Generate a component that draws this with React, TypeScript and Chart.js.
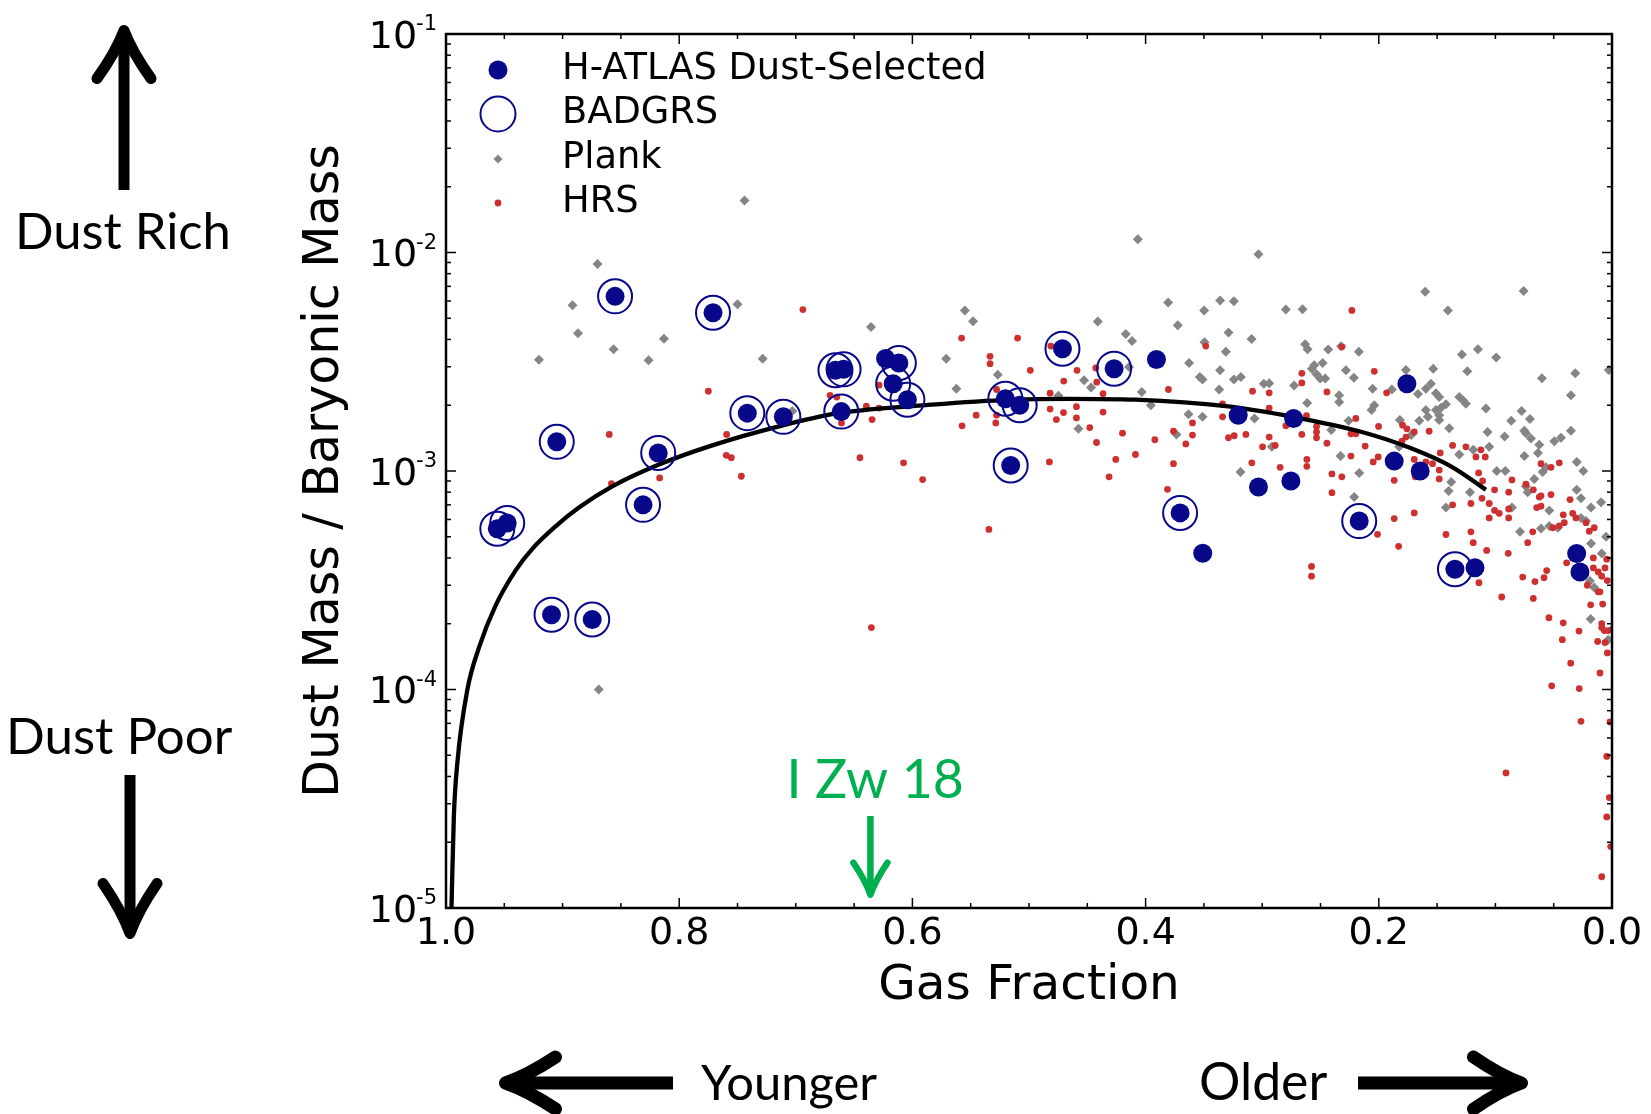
import React, { useEffect, useRef } from 'react';
import { Chart, registerables } from 'chart.js';

Chart.register(...registerables);

// ---------------- DATA ----------------
const hatlasX = [0.956, 0.9475, 0.905, 0.9095, 0.8746, 0.855, 0.831, 0.818, 0.771, 0.7416, 0.7107, 0.666, 0.659, 0.661, 0.623, 0.6116, 0.6165, 0.6043, 0.5203, 0.508, 0.5157, 0.4713, 0.427, 0.3907, 0.3704, 0.351, 0.3206, 0.2731, 0.3032, 0.2754, 0.1759, 0.1868, 0.1645, 0.2168, 0.1347, 0.1175, 0.0303, 0.0275];
const hatlasY = [5.44e-4, 5.78e-4, 1.36e-3, 2.2e-4, 2.09e-4, 6.3e-3, 7.0e-4, 1.21e-3, 5.3e-3, 1.84e-3, 1.77e-3, 2.89e-3, 2.92e-3, 1.87e-3, 3.27e-3, 3.12e-3, 2.51e-3, 2.12e-3, 2.14e-3, 2.0e-3, 1.06e-3, 3.63e-3, 2.94e-3, 3.24e-3, 6.43e-4, 4.2e-4, 1.8e-3, 1.74e-3, 8.45e-4, 9.0e-4, 2.51e-3, 1.11e-3, 1.0e-3, 5.9e-4, 3.55e-4, 3.61e-4, 4.19e-4, 3.45e-4];

const badgrsX = [0.956, 0.9475, 0.905, 0.9095, 0.8746, 0.855, 0.831, 0.818, 0.771, 0.7416, 0.7107, 0.666, 0.659, 0.661, 0.6116, 0.6165, 0.6043, 0.5203, 0.508, 0.5157, 0.4713, 0.427, 0.3704, 0.2168, 0.1347];
const badgrsY = [5.44e-4, 5.78e-4, 1.36e-3, 2.2e-4, 2.09e-4, 6.3e-3, 7.0e-4, 1.21e-3, 5.3e-3, 1.84e-3, 1.77e-3, 2.89e-3, 2.92e-3, 1.87e-3, 3.12e-3, 2.51e-3, 2.12e-3, 2.14e-3, 2.0e-3, 1.06e-3, 3.63e-3, 2.94e-3, 6.43e-4, 5.9e-4, 3.55e-4];

const plankX = [0.744, 0.870, 0.8915, 0.750, 0.8868, 0.8131, 0.8563, 0.9203, 0.8263, 0.7284, 0.703, 0.6355, 0.555, 0.548, 0.571, 0.5268, 0.5623, 0.869,
  0.4067, 0.3807, 0.3361, 0.441, 0.3724, 0.3498, 0.417, 0.4116, 0.3495, 0.4528, 0.4468, 0.4748, 0.4142, 0.4033, 0.3955, 0.3627, 0.3535, 0.3512, 0.3361, 0.3369, 0.4576, 0.3632, 0.3512, 0.3735, 0.3312,
  0.3032, 0.3243, 0.2797, 0.2654, 0.1602, 0.1407, 0.0758, 0.3289, 0.3091, 0.2632, 0.2611, 0.2434, 0.2323, 0.2171, 0.3243, 0.3183, 0.2986, 0.294, 0.2726, 0.2554, 0.2574, 0.2482, 0.2534, 0.2503, 0.246, 0.2282, 0.2214, 0.234, 0.234, 0.2614, 0.3066, 0.2917, 0.3186, 0.2408, 0.2259, 0.2328, 0.2168, 0.2211,
  0.2053, 0.2062, 0.2039, 0.1888, 0.1767, 0.1819, 0.1825, 0.1722, 0.1653, 0.1664, 0.1596, 0.1553, 0.1533, 0.1596, 0.1579, 0.151, 0.1482, 0.1467, 0.1482, 0.1424, 0.1396, 0.151, 0.1482, 0.131, 0.1276, 0.1253, 0.1287, 0.1241, 0.115, 0.0993, 0.1081, 0.1067, 0.0921, 0.0864, 0.0775, 0.0704, 0.0752, 0.0738, 0.0695, 0.0752, 0.0624, 0.0635, 0.0601, 0.0315, 0.0352, 0.0352, 0.0495, 0.0438, 0.0028,
  0.131, 0.119, 0.1053, 0.0989, 0.0915, 0.1379, 0.1401, 0.1218, 0.0858, 0.0789, 0.0738, 0.0723, 0.0667, 0.0595, 0.0566, 0.0538, 0.0609, 0.0538, 0.0466, 0.0303, 0.0266, 0.0246, 0.0302, 0.018, 0.0094, 0.0051, 0.018, 0.0223, 0.0266, 0.1424, 0.0189, 0.0152, 0.0183, 0.0032, 0.0088];
const plankY = [1.73e-2, 8.85e-3, 5.73e-3, 5.79e-3, 4.27e-3, 4.03e-3, 3.61e-3, 3.23e-3, 3.21e-3, 3.26e-3, 1.88e-3, 4.56e-3, 5.42e-3, 4.84e-3, 3.26e-3, 2.76e-3, 2.38e-3, 1.0e-4,
  1.15e-2, 5.91e-3, 6.03e-3, 4.83e-3, 4.65e-3, 5.43e-3, 4.24e-3, 3.94e-3, 3.88e-3, 2.6e-3, 2.41e-3, 2.21e-3, 2.99e-3, 2.3e-3, 2.0e-3, 3.12e-3, 2.69e-3, 2.62e-3, 2.89e-3, 2.36e-3, 1.56e-3, 1.82e-3, 1.77e-3, 1.47e-3, 3.51e-3,
  9.82e-3, 5.98e-3, 5.48e-3, 5.5e-3, 6.62e-3, 5.42e-3, 6.67e-3, 4.3e-3, 4.02e-3, 3.8e-3, 3.61e-3, 3.6e-3, 3.72e-3, 3.51e-3, 2.62e-3, 2.69e-3, 2.51e-3, 2.52e-3, 2.46e-3, 3.05e-3, 2.94e-3, 3.12e-3, 2.77e-3, 2.65e-3, 2.65e-3, 2.89e-3, 2.67e-3, 2.22e-3, 2.07e-3, 2.05e-3, 1.74e-3, 1.29e-3, 9.9e-4, 1.54e-3, 1.7e-3, 1.17e-3, 9.8e-4, 7.6e-4,
  2.38e-3, 1.9e-3, 2.0e-3, 2.36e-3, 2.9e-3, 1.71e-3, 1.29e-3, 1.46e-3, 1.7e-3, 2.25e-3, 2.38e-3, 2.51e-3, 2.94e-3, 1.9e-3, 1.77e-3, 1.9e-3, 1.8e-3, 1.95e-3, 1.71e-3, 2.02e-3, 1.57e-3, 2.27e-3, 2.18e-3, 2.18e-3, 2.1e-3, 2.03e-3, 3.41e-3, 2.86e-3, 3.61e-3, 3.31e-3, 1.93e-3, 1.51e-3, 1.44e-3, 1.7e-3, 1.88e-3, 1.73e-3, 1.53e-3, 1.49e-3, 1.41e-3, 1.17e-3, 1.32e-3, 1.21e-3, 2.66e-3, 2.8e-3, 2.22e-3, 1.53e-3, 1.37e-3, 1.42e-3, 2.9e-3,
  1.19e-3, 1.25e-3, 1.29e-3, 1.0e-3, 1.0e-3, 8.9e-4, 8.1e-4, 8.0e-4, 6.8e-4, 5.27e-4, 8.5e-4, 8.0e-4, 9.2e-4, 9.9e-4, 1.04e-3, 6.6e-4, 5.45e-4, 5.6e-4, 5.5e-4, 8.2e-4, 7.5e-4, 1.0e-3, 1.1e-3, 6.8e-4, 7.2e-4, 5.0e-4, 4.66e-4, 5.9e-4, 6.1e-4, 6.8e-4, 3.14e-4, 2.93e-4, 2.1e-4, 1.69e-4, 4.19e-4];

const hrsX = [0.6939, 0.775, 0.860, 0.7593, 0.7596, 0.7553, 0.7467, 0.8581, 0.8168, 0.5578, 0.5098, 0.5334, 0.5334, 0.4989, 0.5278, 0.6706, 0.6648, 0.6286, 0.6395, 0.6286, 0.6608, 0.6346, 0.5574, 0.5453, 0.5285, 0.5278, 0.645, 0.6076, 0.5912, 0.6352, 0.5344,
  0.4813, 0.4588, 0.4427, 0.4702, 0.4419, 0.4365, 0.4819, 0.3804, 0.3484, 0.4819, 0.4704, 0.4765, 0.4593, 0.4593, 0.4479, 0.4365, 0.4421, 0.4198, 0.3921, 0.3761, 0.3598, 0.3655, 0.3598, 0.4256, 0.4087, 0.4313, 0.3761, 0.3812, 0.4825, 0.334, 0.334,
  0.2231, 0.2317, 0.266, 0.266, 0.2039, 0.2445, 0.1933, 0.3083, 0.294, 0.294, 0.262, 0.2797, 0.2534, 0.2534, 0.2534, 0.266, 0.2445, 0.2197, 0.2239, 0.2197, 0.2002, 0.2117, 0.2239, 0.2005, 0.2048, 0.2402, 0.2317, 0.2402, 0.2617, 0.2617, 0.2846, 0.3089, 0.3289, 0.324, 0.314, 0.2997, 0.294, 0.2889,
  0.1796, 0.1759, 0.1696, 0.1767, 0.1802, 0.1568, 0.1473, 0.1696, 0.1596, 0.1539, 0.1482, 0.1482, 0.1688, 0.1868, 0.1696, 0.1868, 0.2011, 0.183, 0.1424, 0.1367, 0.1253, 0.1167, 0.1124, 0.1087, 0.1144, 0.111, 0.1367, 0.121, 0.121, 0.119, 0.1115, 0.1053, 0.1053, 0.1007, 0.0967, 0.0886, 0.0886, 0.0858, 0.0886, 0.1007,
  0.0738, 0.0675, 0.0624, 0.0609, 0.0646, 0.0609, 0.0523, 0.036, 0.0418, 0.0337, 0.0309, 0.0609, 0.0452, 0.0523, 0.0509, 0.0452, 0.0409, 0.0223, 0.0152, 0.0195, 0.068, 0.0723,
  0.2577, 0.2577, 0.1141, 0.1075, 0.089, 0.0946, 0.0766, 0.0661, 0.0675, 0.0583, 0.056, 0.0541, 0.0418, 0.0426, 0.0283, 0.0354, 0.0517, 0.0281, 0.0266, 0.0909, 0.0088, 0.0045, 0.0023, 0.0045, 0.0011, 0.0103, 0.0017, 0.004, 0.0123, 0.006, 0.0088, 0.0066, 0.0032, 0.0088, 0.0183, 0.008, 0.016, 0.016, 0.0118, 0.0118, 0.0045, 0.006, 0.004, 0.0103, 0.0088, 0.0212, 0.0389, 0.0003];
const hrsY = [5.48e-3, 2.32e-3, 1.47e-3, 1.47e-3, 1.18e-3, 1.15e-3, 9.46e-4, 8.75e-4, 9.3e-4, 4.06e-3, 4.06e-3, 3.35e-3, 3.1e-3, 2.89e-3, 2.36e-3, 2.22e-3, 2.18e-3, 2.47e-3, 1.98e-3, 1.94e-3, 1.66e-3, 1.72e-3, 1.61e-3, 1.8e-3, 1.66e-3, 1.8e-3, 1.15e-3, 1.09e-3, 9.14e-4, 1.92e-4, 5.4e-4,
  3.73e-3, 2.89e-3, 2.96e-3, 2.58e-3, 2.55e-3, 2.26e-3, 2.27e-3, 2.36e-3, 3.73e-3, 1.92e-3, 1.85e-3, 1.72e-3, 1.97e-3, 1.75e-3, 1.58e-3, 1.86e-3, 1.35e-3, 1.49e-3, 1.39e-3, 1.52e-3, 1.46e-3, 1.33e-3, 1.66e-3, 1.13e-3, 1.19e-3, 9.4e-4, 1.08e-3, 8.24e-4, 1.1e-3, 2.03e-3, 1.77e-3,
  5.43e-3, 3.7e-3, 2.8e-3, 2.53e-3, 2.86e-3, 2.3e-3, 2.28e-3, 2.32e-3, 2.28e-3, 1.94e-3, 1.79e-3, 1.61e-3, 1.6e-3, 1.51e-3, 1.42e-3, 1.47e-3, 1.34e-3, 1.74e-3, 1.48e-3, 1.48e-3, 1.6e-3, 1.3e-3, 1.17e-3, 1.16e-3, 1.1e-3, 9.7e-4, 9.4e-4, 7.96e-4, 1.13e-3, 1.05e-3, 1.04e-3, 1.09e-3, 1.42e-3, 1.45e-3, 1.47e-3, 1.29e-3, 1.43e-3, 1.31e-3,
  1.62e-3, 1.56e-3, 1.51e-3, 1.43e-3, 1.37e-3, 1.52e-3, 1.21e-3, 1.13e-3, 1.1e-3, 1.08e-3, 1.01e-3, 9.2e-4, 9.4e-4, 9.06e-4, 6.43e-4, 6.06e-4, 5.13e-4, 4.52e-4, 5.12e-4, 1.31e-3, 1.29e-3, 1.16e-3, 1.25e-3, 1.16e-3, 9.8e-4, 9.0e-4, 7.0e-4, 7.1e-4, 5.27e-4, 4.7e-4, 7.5e-4, 7.1e-4, 6.1e-4, 6.6e-4, 6.4e-4, 6.7e-4, 6.1e-4, 9.1e-4, 8.0e-4, 8.2e-4,
  8.7e-4, 8.2e-4, 7.6e-4, 7.7e-4, 6.8e-4, 6.9e-4, 7.8e-4, 7.4e-4, 6.3e-4, 6.4e-4, 6.1e-4, 1.08e-3, 1.09e-3, 1.04e-3, 5.5e-4, 5.6e-4, 5.8e-4, 5.8e-4, 5.5e-4, 5.3e-4, 5.27e-4, 4.7e-4,
  3.66e-4, 3.3e-4, 3.08e-4, 4.33e-4, 4.2e-4, 2.65e-4, 3.27e-4, 3.12e-4, 2.61e-4, 3.25e-4, 3.5e-4, 2.13e-4, 2.02e-4, 1.69e-4, 1.85e-4, 1.32e-4, 1.04e-4, 1.01e-4, 7.15e-5, 4.15e-5, 1.39e-5, 2.61e-5, 3.2e-5, 4.94e-5, 1.91e-5, 1.19e-4, 7.1e-5, 1.47e-4, 1.66e-4, 1.64e-4, 1.92e-4, 1.86e-4, 1.86e-4, 2.0e-4, 2.44e-4, 2.46e-4, 4.0e-4, 3.6e-4, 3.45e-4, 2.8e-4, 3.95e-4, 3.6e-4, 3.15e-4, 2.8e-4, 3.3e-4, 3.0e-4, 3.8e-4, 1.88e-4];

const modelX = [0.9953, 0.9933, 0.9903, 0.9818, 0.9718, 0.9575, 0.9404, 0.926, 0.906, 0.886, 0.8574, 0.8174, 0.7716, 0.7145, 0.666, 0.5943, 0.5228, 0.4656, 0.4084, 0.3312, 0.274, 0.2168, 0.1739, 0.1367, 0.1081];
const modelY = [1.0e-5, 2.6e-5, 4.6e-5, 9.9e-5, 1.55e-4, 2.42e-4, 3.5e-4, 4.4e-4, 5.58e-4, 6.8e-4, 8.5e-4, 1.07e-3, 1.31e-3, 1.6e-3, 1.83e-3, 1.99e-3, 2.11e-3, 2.14e-3, 2.12e-3, 1.98e-3, 1.77e-3, 1.52e-3, 1.28e-3, 1.04e-3, 8.2e-4];

const xTickValues = [0, 0.2, 0.4, 0.6, 0.8, 1.0];
const yTickExponents = [-5, -4, -3, -2, -1];
const legendLabels = ['H-ATLAS Dust-Selected', 'BADGRS', 'Plank', 'HRS'];
const izw18GasFraction = 0.636;
const izw18Label = 'I Zw 18';

// ---------------- STYLE ----------------
const NAVY = '#08088a';
const RED = '#cd3030';
const GRAY = '#858585';
const GREEN = '#00b050';
const SANS = '"DejaVu Sans", "Liberation Sans", sans-serif';
const HUMAN = 'Lato, "Open Sans", sans-serif';

const pts = (xs: number[], ys: number[]) => xs.map((x, i) => ({ x, y: ys[i] }));

function drawArrow(ctx: CanvasRenderingContext2D, x1: number, y1: number, x2: number, y2: number, w: number, headLen: number, headHalf: number, color: string) {
  const dx = x2 - x1, dy = y2 - y1;
  const len = Math.hypot(dx, dy);
  const ux = dx / len, uy = dy / len;
  const px = -uy, py = ux;
  ctx.save();
  ctx.strokeStyle = color;
  ctx.lineWidth = w;
  ctx.lineCap = 'butt';
  ctx.beginPath();
  ctx.moveTo(x1, y1);
  ctx.lineTo(x2 - ux * w * 0.6, y2 - uy * w * 0.6);
  ctx.stroke();
  ctx.lineCap = 'round';
  ctx.lineJoin = 'round';
  const tx = x2 - ux * w * 0.5, ty = y2 - uy * w * 0.5;
  ctx.beginPath();
  ctx.moveTo(tx - ux * headLen + px * headHalf, ty - uy * headLen + py * headHalf);
  ctx.quadraticCurveTo(tx - ux * headLen * 0.45 + px * headHalf * 0.3, ty - uy * headLen * 0.45 + py * headHalf * 0.3, tx, ty);
  ctx.quadraticCurveTo(tx - ux * headLen * 0.45 - px * headHalf * 0.3, ty - uy * headLen * 0.45 - py * headHalf * 0.3, tx - ux * headLen - px * headHalf, ty - uy * headLen - py * headHalf);
  ctx.stroke();
  ctx.restore();
}

function fitText(ctx: CanvasRenderingContext2D, text: string, left: number, width: number, baseline: number, family: string, color: string) {
  ctx.save();
  ctx.font = `50px ${family}`;
  const m = ctx.measureText(text);
  const ink = m.actualBoundingBoxLeft + m.actualBoundingBoxRight;
  const size = (50 * width) / ink;
  ctx.font = `${size}px ${family}`;
  const m2 = ctx.measureText(text);
  ctx.fillStyle = color;
  ctx.textAlign = 'left';
  ctx.textBaseline = 'alphabetic';
  ctx.fillText(text, left + m2.actualBoundingBoxLeft, baseline);
  ctx.restore();
}

const overlayPlugin = {
  id: 'overlay',
  beforeDraw(chart: any) {
    const { ctx, width, height } = chart;
    ctx.save();
    ctx.fillStyle = '#ffffff';
    ctx.fillRect(0, 0, width, height);
    ctx.restore();
  },
  afterDraw(chart: any) {
    const ctx: CanvasRenderingContext2D = chart.ctx;
    const xs = chart.scales.x;
    const ys = chart.scales.y;
    const a = chart.chartArea;
    ctx.save();
    ctx.strokeStyle = '#000';
    ctx.lineWidth = 1.5;
    const seg = (x1: number, y1: number, x2: number, y2: number) => {
      ctx.beginPath(); ctx.moveTo(x1, y1); ctx.lineTo(x2, y2); ctx.stroke();
    };
    // x ticks (inward, top & bottom)
    for (let i = 0; i <= 20; i++) {
      const v = i * 0.05;
      const p = xs.getPixelForValue(v);
      const major = xTickValues.some((t) => Math.abs(t - v) < 1e-9);
      const L = major ? 10 : 5;
      seg(p, a.bottom, p, a.bottom - L);
      seg(p, a.top, p, a.top + L);
    }
    // y ticks (log, inward, left & right)
    for (const e of yTickExponents) {
      for (let m = 1; m <= 9; m++) {
        const v = m * Math.pow(10, e);
        if (v > 0.1 * 1.0000001) break;
        const p = ys.getPixelForValue(v);
        const L = m === 1 ? 10 : 5;
        seg(a.left, p, a.left + L, p);
        seg(a.right, p, a.right - L, p);
      }
    }
    // frame
    ctx.lineWidth = 2.5;
    ctx.strokeRect(a.left, a.top, a.right - a.left, a.bottom - a.top);

    // y tick labels with superscripts
    ctx.fillStyle = '#000';
    for (const e of yTickExponents) {
      const p = ys.getPixelForValue(Math.pow(10, e));
      const sup = '-' + String(-e);
      ctx.font = `21px ${SANS}`;
      const supW = ctx.measureText(sup).width;
      const supRight = a.left - 9;
      ctx.textAlign = 'left';
      ctx.textBaseline = 'alphabetic';
      ctx.fillText(sup, supRight - supW, p - 4);
      ctx.font = `38px ${SANS}`;
      ctx.textAlign = 'right';
      ctx.fillText('10', supRight - supW + 1, p + 13.8);
    }

    // legend
    const lx = a.left + 52;
    const tx = a.left + 116;
    const rows = [a.top + 36, a.top + 80, a.top + 125, a.top + 169];
    ctx.fillStyle = NAVY;
    ctx.beginPath(); ctx.arc(lx, rows[0], 9.5, 0, Math.PI * 2); ctx.fill();
    ctx.strokeStyle = NAVY; ctx.lineWidth = 2;
    ctx.beginPath(); ctx.arc(lx, rows[1], 17.5, 0, Math.PI * 2); ctx.stroke();
    ctx.fillStyle = GRAY;
    ctx.beginPath(); ctx.moveTo(lx, rows[2] - 4.5); ctx.lineTo(lx + 4.5, rows[2]); ctx.lineTo(lx, rows[2] + 4.5); ctx.lineTo(lx - 4.5, rows[2]); ctx.closePath(); ctx.fill();
    ctx.fillStyle = RED;
    ctx.beginPath(); ctx.arc(lx, rows[3], 3.4, 0, Math.PI * 2); ctx.fill();
    ctx.fillStyle = '#000';
    ctx.font = `36.8px ${SANS}`;
    ctx.textAlign = 'left';
    ctx.textBaseline = 'alphabetic';
    legendLabels.forEach((t, i) => ctx.fillText(t, tx, rows[i] + 9));

    // I Zw 18 annotation
    const gx = xs.getPixelForValue(izw18GasFraction);
    drawArrow(ctx, gx, 816, gx, 898, 6.5, 32, 17, GREEN);
    fitText(ctx, izw18Label, gx - 80, 171, 798, HUMAN, GREEN);

    // side annotations
    drawArrow(ctx, 124, 190, 124, 25, 11, 48, 27, '#000');
    fitText(ctx, 'Dust Rich', 19, 209, 249, HUMAN, '#000');
    fitText(ctx, 'Dust Poor', 10, 222, 754, HUMAN, '#000');
    drawArrow(ctx, 130, 775, 130, 939, 11, 50, 27, '#000');
    drawArrow(ctx, 673, 1083, 499, 1083, 13, 50, 26, '#000');
    fitText(ctx, 'Younger', 701, 176, 1100, HUMAN, '#000');
    fitText(ctx, 'Older', 1201, 126, 1100, HUMAN, '#000');
    drawArrow(ctx, 1358, 1083, 1528, 1083, 13, 48, 26, '#000');
    ctx.restore();
  },
};

export default function App() {
  const ref = useRef<HTMLCanvasElement>(null);
  useEffect(() => {
    if (!ref.current) return;
    Chart.defaults.font.family = SANS;
    Chart.defaults.color = '#000';
    const chart = new Chart(ref.current, {
      type: 'scatter',
      data: {
        datasets: [
          {
            label: 'BADGRS',
            data: pts(badgrsX, badgrsY),
            pointStyle: 'circle',
            pointRadius: 17,
            backgroundColor: 'rgba(0,0,0,0)',
            borderColor: NAVY,
            pointBorderWidth: 2,
            order: 0,
            clip: 0,
          } as any,
          {
            label: 'H-ATLAS Dust-Selected',
            data: pts(hatlasX, hatlasY),
            pointStyle: 'circle',
            pointRadius: 9.5,
            backgroundColor: NAVY,
            borderColor: NAVY,
            pointBorderWidth: 0,
            order: 1,
            clip: 0,
          } as any,
          {
            label: 'model',
            data: pts(modelX, modelY),
            showLine: true,
            pointRadius: 0,
            borderColor: '#000',
            borderWidth: 4.3,
            cubicInterpolationMode: 'monotone',
            order: 2,
            clip: 0,
          } as any,
          {
            label: 'HRS',
            data: pts(hrsX, hrsY),
            pointStyle: 'circle',
            pointRadius: 3.4,
            backgroundColor: RED,
            borderColor: RED,
            pointBorderWidth: 0,
            order: 3,
            clip: 0,
          } as any,
          {
            label: 'Plank',
            data: pts(plankX, plankY),
            pointStyle: 'rectRot',
            pointRadius: 5,
            backgroundColor: GRAY,
            borderColor: GRAY,
            pointBorderWidth: 0,
            order: 4,
            clip: 0,
          } as any,
        ],
      },
      options: {
        responsive: false,
        animation: false,
        devicePixelRatio: 1,
        events: [],
        layout: { padding: { top: 34, right: 39, bottom: 0, left: 0 } },
        plugins: { legend: { display: false }, tooltip: { enabled: false } },
        scales: {
          x: {
            type: 'linear',
            reverse: true,
            min: 0,
            max: 1,
            afterBuildTicks: (s: any) => { s.ticks = xTickValues.map((v) => ({ value: v })); },
            afterFit: (s: any) => { s.height = 206; },
            ticks: {
              font: { size: 38, family: SANS },
              color: '#000',
              padding: 3,
              autoSkip: false,
              maxRotation: 0,
              callback: (v: any) => Number(v).toFixed(1),
            },
            grid: { display: false, drawTicks: false },
            border: { display: false },
            title: {
              display: true,
              text: 'Gas Fraction',
              color: '#000',
              font: { size: 48.5, family: SANS },
              padding: { top: 0, bottom: 98 },
            },
          },
          y: {
            type: 'logarithmic',
            min: 1e-5,
            max: 1e-1,
            afterFit: (s: any) => { s.width = 446; },
            ticks: { display: false },
            grid: { display: false, drawTicks: false },
            border: { display: false },
            title: {
              display: true,
              text: 'Dust Mass / Baryonic Mass',
              color: '#000',
              font: { size: 49, family: SANS },
              padding: { top: 296, bottom: 0 },
            },
          },
        },
      } as any,
      plugins: [overlayPlugin],
    });
    return () => chart.destroy();
  }, []);
  return (
    <div style={{ position: 'fixed', left: 0, top: 0, width: 1651, height: 1114, background: '#fff' }}>
      <canvas ref={ref} width={1651} height={1114} style={{ display: 'block', width: 1651, height: 1114 }} />
    </div>
  );
}
